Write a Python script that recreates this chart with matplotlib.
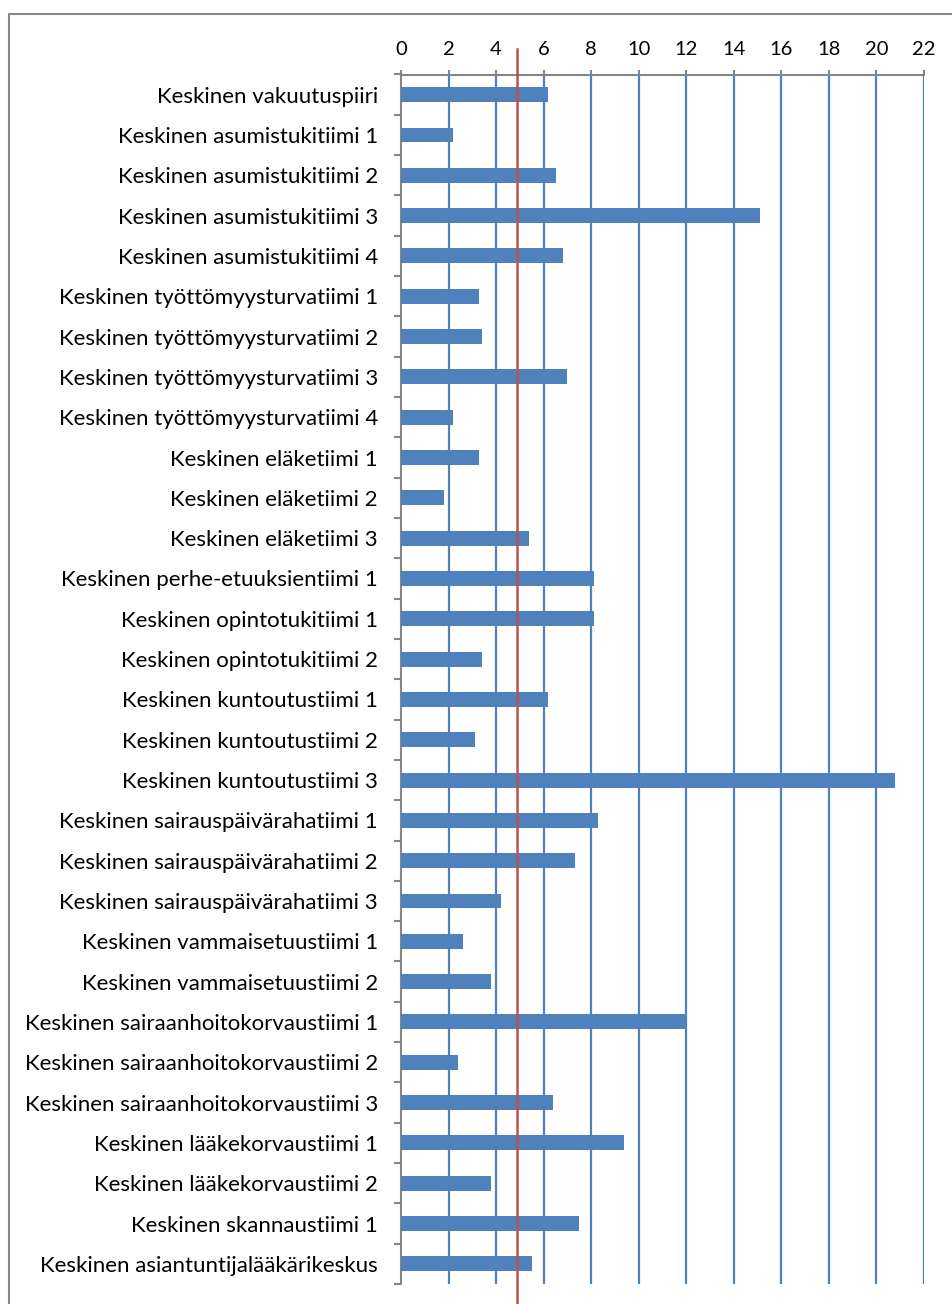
import matplotlib
matplotlib.use("Agg")
import matplotlib.pyplot as plt
from matplotlib.patches import Rectangle

plt.rcParams['font.family'] = ['Lato', 'DejaVu Sans']

categories = [
    "Keskinen vakuutuspiiri",
    "Keskinen asumistukitiimi 1",
    "Keskinen asumistukitiimi 2",
    "Keskinen asumistukitiimi 3",
    "Keskinen asumistukitiimi 4",
    "Keskinen työttömyysturvatiimi 1",
    "Keskinen työttömyysturvatiimi 2",
    "Keskinen työttömyysturvatiimi 3",
    "Keskinen työttömyysturvatiimi 4",
    "Keskinen eläketiimi 1",
    "Keskinen eläketiimi 2",
    "Keskinen eläketiimi 3",
    "Keskinen perhe-etuuksientiimi 1",
    "Keskinen opintotukitiimi 1",
    "Keskinen opintotukitiimi 2",
    "Keskinen kuntoutustiimi 1",
    "Keskinen kuntoutustiimi 2",
    "Keskinen kuntoutustiimi 3",
    "Keskinen sairauspäivärahatiimi 1",
    "Keskinen sairauspäivärahatiimi 2",
    "Keskinen sairauspäivärahatiimi 3",
    "Keskinen vammaisetuustiimi 1",
    "Keskinen vammaisetuustiimi 2",
    "Keskinen sairaanhoitokorvaustiimi 1",
    "Keskinen sairaanhoitokorvaustiimi 2",
    "Keskinen sairaanhoitokorvaustiimi 3",
    "Keskinen lääkekorvaustiimi 1",
    "Keskinen lääkekorvaustiimi 2",
    "Keskinen skannaustiimi 1",
    "Keskinen asiantuntijalääkärikeskus",
]
values = [6.2, 2.2, 6.5, 15.1, 6.8, 3.3, 3.4, 7.0, 2.2, 3.3, 1.8, 5.4, 8.1, 8.1,
          3.4, 6.2, 3.1, 20.8, 8.3, 7.3, 4.2, 2.6, 3.8, 12.0, 2.4, 6.4, 9.4, 3.8,
          7.5, 5.5]
average = 4.87
x_ticks = list(range(0, 23, 2))

blue = "#4F81BD"
red = "#C0504D"
axis_gray = "#868686"

fig = plt.figure(figsize=(9.52, 13.04), dpi=100)
W, H = 952, 1304
top_px, bottom_px = 74.5, 1284
ax = fig.add_axes([401 / W, 1 - bottom_px / H, (924 - 401) / W,
                   (bottom_px - top_px) / H])

n = len(categories)
pos = list(range(n))
ax.barh(pos, values, height=0.37, color=blue, zorder=3)
ax.set_ylim(n - 0.5, -0.5)
ax.set_xlim(0, 22)

ax.set_xticks(x_ticks)
ax.xaxis.tick_top()
ax.tick_params(axis='x', direction='out', length=3.6, width=1.5, color=axis_gray,
               labelsize=14.5, pad=8.5)
ax.set_yticks(pos)
ax.set_yticklabels(categories)
ax.set_yticks([i - 0.5 for i in range(n + 1)], minor=True)
ax.tick_params(axis='y', which='major', length=0, labelsize=16, pad=16.5)
ax.tick_params(axis='y', which='minor', direction='out', length=5, width=1.5,
               color=axis_gray)

for x in x_ticks[1:]:
    ax.axvline(x, color=blue, lw=1.6, zorder=1)

for side in ['right', 'bottom']:
    ax.spines[side].set_visible(False)
for side in ['top', 'left']:
    ax.spines[side].set_color(axis_gray)
    ax.spines[side].set_linewidth(1.5)

ax.axvline(average, ymin=-0.02, ymax=1.021, color=red, lw=1.8, zorder=4,
           clip_on=False)

fig.patches.append(Rectangle((9 / W, -0.1), 1.2, (1 - 14 / H) + 0.1,
                             transform=fig.transFigure, fill=False,
                             edgecolor="#888888", lw=1.5))

fig.savefig("out.png", dpi=100)
